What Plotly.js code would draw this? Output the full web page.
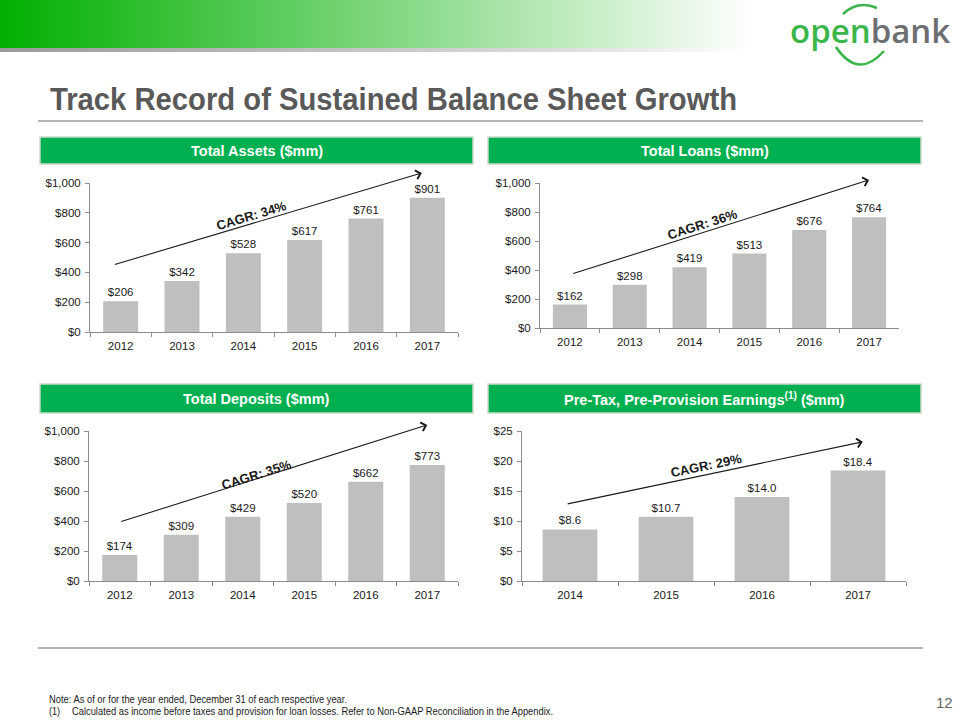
<!DOCTYPE html>
<html>
<head>
<meta charset="utf-8">
<script src="https://cdn.plot.ly/plotly-3.0.1.min.js"></script>
<style>html,body{margin:0;padding:0;background:#fff;}#chart{width:960px;height:720px;}</style>
</head>
<body>
<div id="chart"></div>
<script>
// ---------- DATA ----------
const yearsLong = ['2012', '2013', '2014', '2015', '2016', '2017'];
const totalAssets = [206, 342, 528, 617, 761, 901];
const totalLoans = [162, 298, 419, 513, 676, 764];
const totalDeposits = [174, 309, 429, 520, 662, 773];
const yearsShort = ['2014', '2015', '2016', '2017'];
const ptppEarnings = [8.6, 10.7, 14.0, 18.4];
const panelTitles = ['Total Assets ($mm)', 'Total Loans ($mm)', 'Total Deposits ($mm)', 'Pre-Tax, Pre-Provision Earnings<sup>(1)</sup> ($mm)'];
const cagrLabels = ['CAGR: 34%', 'CAGR: 36%', 'CAGR: 35%', 'CAGR: 29%'];
const yTicksBig = [0, 200, 400, 600, 800, 1000];
const yTicksSmall = [0, 5, 10, 15, 20, 25];

// ---------- LAYOUT CONFIG (pixels) ----------
const W = 960, H = 720;
const PX = x => x / W;
const PY = y => 1 - y / H;
const FONT = 'Liberation Sans, Arial, sans-serif';
const tickText = vals => vals.map(v => '$' + v.toLocaleString('en-US'));

const panels = [
  {x: yearsLong, y: totalAssets, fmt: '$%{y:,}', ticks: yTicksBig, range: [0, 1000],
   box: [40, 137, 473, 164], plot: [90, 183, 458, 332],
   arrow: {x0: -0.12, y0: 450, x1: 4.91, y1: 1067}, label: {x: 2.14, y: 785, angle: -16.6}},
  {x: yearsLong, y: totalLoans, fmt: '$%{y:,}', ticks: yTicksBig, range: [0, 1000],
   box: [488, 137, 921, 164], plot: [540, 183, 899, 328],
   arrow: {x0: 0.03, y0: 372, x1: 5.0, y1: 1021}, label: {x: 2.21, y: 717, angle: -17.6}},
  {x: yearsLong, y: totalDeposits, fmt: '$%{y:,}', ticks: yTicksBig, range: [0, 1000],
   box: [40, 384, 473, 413], plot: [89, 431, 458, 581],
   arrow: {x0: 0.0, y0: 393, x1: 5.0, y1: 1040}, label: {x: 2.23, y: 713, angle: -17.4}},
  {x: yearsShort, y: ptppEarnings, fmt: '$%{y:.1f}', ticks: yTicksSmall, range: [0, 25],
   box: [488, 384, 921, 413], plot: [522, 431, 906, 581],
   arrow: {x0: -0.04, y0: 12.8, x1: 3.05, y1: 23.2}, label: {x: 1.42, y: 19.2, angle: -11.8}}
];

const traces = [];
const layout = {
  width: W, height: H,
  margin: {l: 0, r: 0, t: 0, b: 0},
  paper_bgcolor: '#ffffff', plot_bgcolor: 'rgba(0,0,0,0)',
  showlegend: false,
  bargap: 0.43,
  font: {family: FONT, size: 11, color: '#1a1a1a'},
  shapes: [], annotations: [], images: []
};

panels.forEach((p, i) => {
  const n = i === 0 ? '' : String(i + 1);
  const xa = 'x' + n, ya = 'y' + n;
  traces.push({
    type: 'bar', x: p.x, y: p.y, xaxis: xa, yaxis: ya,
    marker: {color: '#bfbfbf', line: {width: 0}},
    texttemplate: p.fmt, textposition: 'outside', cliponaxis: false,
    constraintext: 'none',
    textfont: {family: FONT, size: 11.5, color: '#1a1a1a'},
    hoverinfo: 'skip'
  });
  layout['xaxis' + n] = {
    domain: [PX(p.plot[0]), PX(p.plot[2])], anchor: ya,
    type: 'category', showline: true, linecolor: '#8c8c8c', linewidth: 1,
    ticks: 'outside', tickson: 'boundaries', ticklen: 4, tickcolor: '#8c8c8c',
    ticklabelstandoff: 3,
    showgrid: false, zeroline: false, fixedrange: true,
    tickfont: {family: FONT, size: 11.5, color: '#1a1a1a'}
  };
  layout['yaxis' + n] = {
    domain: [PY(p.plot[3]), PY(p.plot[1])], anchor: xa,
    range: p.range, tickmode: 'array', tickvals: p.ticks, ticktext: tickText(p.ticks),
    showline: true, linecolor: '#8c8c8c', linewidth: 1,
    ticks: 'outside', ticklen: 4, tickcolor: '#8c8c8c',
    ticklabelstandoff: 2,
    showgrid: false, zeroline: false, fixedrange: true,
    tickfont: {family: FONT, size: 11.5, color: '#1a1a1a'}
  };
  // panel header box
  layout.shapes.push({
    type: 'rect', xref: 'paper', yref: 'paper',
    x0: PX(p.box[0]), x1: PX(p.box[2]), y0: PY(p.box[3]), y1: PY(p.box[1]),
    fillcolor: '#00b050', line: {color: '#c9d9c9', width: 1.5}, layer: 'below'
  });
  layout.annotations.push({
    xref: 'paper', yref: 'paper', x: PX((p.box[0] + p.box[2]) / 2), y: PY((p.box[1] + p.box[3]) / 2),
    xanchor: 'center', yanchor: 'middle', showarrow: false,
    text: '<b>' + panelTitles[i] + '</b>',
    font: {family: FONT, size: 14.5, color: '#ffffff'}
  });
  // CAGR arrow
  layout.annotations.push({
    xref: xa, yref: ya, axref: xa, ayref: ya,
    x: p.arrow.x1, y: p.arrow.y1, ax: p.arrow.x0, ay: p.arrow.y0,
    text: '', showarrow: true, arrowhead: 4, arrowsize: 1.6, arrowwidth: 1.1,
    arrowcolor: '#1a1a1a', standoff: 0, startstandoff: 0
  });
  layout.annotations.push({
    xref: xa, yref: ya, x: p.label.x, y: p.label.y, showarrow: false,
    text: '<b>' + cagrLabels[i] + '</b>', textangle: p.label.angle,
    font: {family: FONT, size: 13, color: '#1a1a1a'}
  });
});

// header gradient bar
const svg = "<svg xmlns='http://www.w3.org/2000/svg' width='960' height='56' viewBox='0 0 960 56'>" +
  "<defs><linearGradient id='g' x1='0' x2='1' y1='0' y2='0'>" +
  "<stop offset='0' stop-color='#00b000'/><stop offset='0.5' stop-color='#7dd67d'/><stop offset='1' stop-color='#ffffff'/></linearGradient>" +
  "<linearGradient id='s' x1='0' x2='1' y1='0' y2='0'><stop offset='0' stop-color='#9a9a9a'/><stop offset='0.75' stop-color='#dcdcdc'/><stop offset='1' stop-color='#ffffff'/></linearGradient></defs>" +
  "<rect x='0' y='0' width='752' height='48' fill='url(#g)'/>" +
  "<rect x='0' y='48' width='745' height='4' fill='url(#s)'/></svg>";
layout.images.push({
  source: 'data:image/svg+xml;charset=utf-8,' + encodeURIComponent(svg),
  xref: 'paper', yref: 'paper', x: 0, y: 1, sizex: 1, sizey: 56 / H,
  xanchor: 'left', yanchor: 'top', sizing: 'stretch', layer: 'below'
});

// logo arcs
function path(pts) {
  return 'M' + PX(pts[0]) + ',' + PY(pts[1]) + ' Q' + PX(pts[2]) + ',' + PY(pts[3]) + ' ' + PX(pts[4]) + ',' + PY(pts[5]);
}
layout.shapes.push({type: 'path', xref: 'paper', yref: 'paper', path: path([843, 14, 858, 0, 877, 8]), line: {color: '#3cb54a', width: 2.5}});
layout.shapes.push({type: 'path', xref: 'paper', yref: 'paper', path: path([836, 47, 858, 80, 884, 51]), line: {color: '#3cb54a', width: 2.5}});
layout.annotations.push({
  xref: 'paper', yref: 'paper', x: PX(870), y: PY(31), xanchor: 'center', yanchor: 'middle', showarrow: false,
  text: "<span style='color:#3cb54a'>open</span><span style='color:#6d6e71'>bank</span>",
  font: {family: 'Open Sans, sans-serif', size: 33, weight: 600}
});

// title + rules (narrow texts get compressed after render to the reference widths)
const narrowTexts = [];
function narrowNote(text, left, cy, size, width, color, bold) {
  layout.annotations.push({
    xref: 'paper', yref: 'paper', x: PX(left), y: PY(cy), xanchor: 'left', yanchor: 'middle', showarrow: false,
    text: bold ? '<b>' + text + '</b>' : text,
    font: {family: FONT, size: size, color: color}
  });
  narrowTexts.push({text: text, left: left, width: width});
}
narrowNote('Track Record of Sustained Balance Sheet Growth', 50, 99, 32, 687, '#595959', true);
layout.shapes.push({type: 'line', xref: 'paper', yref: 'paper', x0: PX(38), x1: PX(923), y0: PY(121), y1: PY(121), line: {color: '#b5b5b5', width: 2}});
layout.shapes.push({type: 'line', xref: 'paper', yref: 'paper', x0: PX(38), x1: PX(923), y0: PY(648), y1: PY(648), line: {color: '#b5b5b5', width: 2}});

// footer
narrowNote('Note: As of or for the year ended, December 31 of each respective year.', 49, 699, 10.5, 298, '#1a1a1a', false);
narrowNote('(1)', 49, 711, 10.5, 11, '#1a1a1a', false);
narrowNote('Calculated as income before taxes and provision for loan losses. Refer to Non-GAAP Reconciliation in the Appendix.', 72, 711, 10.5, 481, '#1a1a1a', false);
layout.annotations.push({
  xref: 'paper', yref: 'paper', x: PX(944), y: PY(702), xanchor: 'center', yanchor: 'middle', showarrow: false,
  text: '12', font: {family: FONT, size: 15, color: '#666666'}
});

Plotly.newPlot('chart', traces, layout, {staticPlot: true, displayModeBar: false}).then(gd => {
  const els = gd.querySelectorAll('.annotation-text');
  els.forEach(el => {
    const t = el.textContent;
    const spec = narrowTexts.find(s => s.text === t);
    if (!spec) return;
    el.setAttribute('text-anchor', 'start');
    el.setAttribute('textLength', spec.width);
    el.setAttribute('lengthAdjust', 'spacingAndGlyphs');
    const r = el.getBoundingClientRect();
    const gr = gd.getBoundingClientRect();
    const dx = spec.left - (r.left - gr.left);
    el.setAttribute('x', (parseFloat(el.getAttribute('x')) || 0) + dx);
  });
});
</script>
</body>
</html>
